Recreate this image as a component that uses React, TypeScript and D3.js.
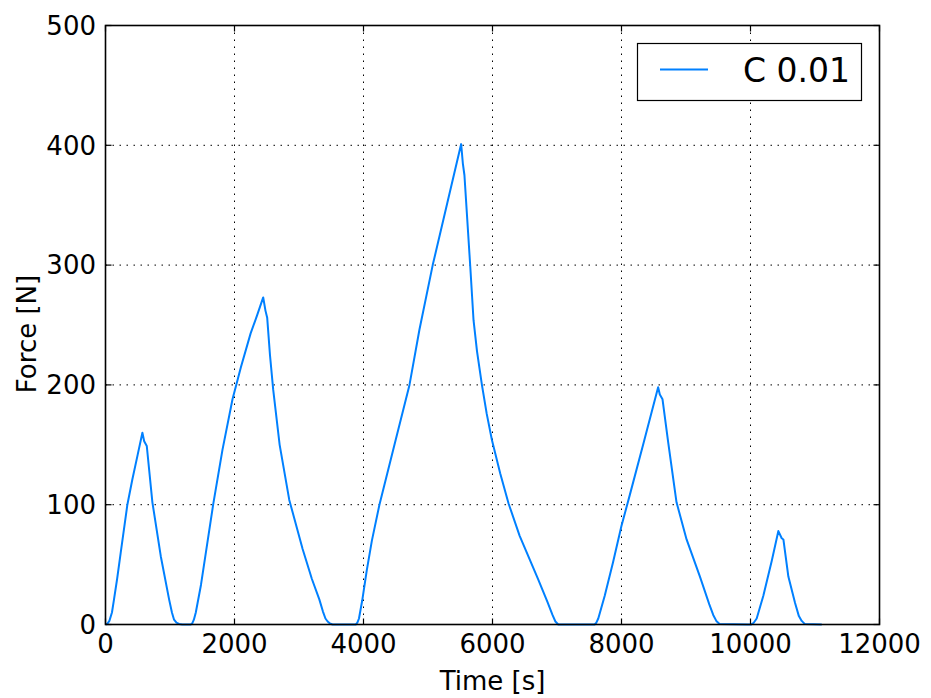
import React from "react";
import * as d3 from "d3";

const times = [0, 30, 60, 100, 132, 180, 236, 339, 416, 500, 572, 600, 640, 727, 857, 986, 1030, 1063, 1100, 1141, 1190, 1322, 1345, 1370, 1400, 1480, 1556, 1669, 1814, 1969, 2100, 2250, 2350, 2445, 2480, 2507, 2550, 2600, 2700, 2849, 3056, 3200, 3315, 3370, 3410, 3444, 3480, 3520, 3880, 3905, 3930, 3980, 4050, 4130, 4247, 4480, 4713, 4867, 5073, 5300, 5514, 5540, 5565, 5655, 5706, 5760, 5836, 5910, 5991, 6120, 6249, 6421, 6705, 6850, 6930, 6975, 7020, 7583, 7610, 7640, 7740, 7869, 7998, 8128, 8335, 8568, 8594, 8636, 8724, 8853, 9009, 9216, 9360, 9422, 9470, 9520, 9960, 10010, 10050, 10096, 10199, 10329, 10432, 10484, 10510, 10587, 10691, 10750, 10794, 10840, 11105];
const forces = [0, 0.8, 3, 10, 21, 38, 60, 100, 121, 142, 160, 153, 149, 102, 57, 21, 10, 4, 1.5, 0.5, 0, 0, 1, 4, 10, 33, 60, 100, 146, 188, 215, 243, 258, 273, 262, 256, 225, 196, 150, 104, 63, 38, 21, 11, 5, 2.5, 0.8, 0, 0, 1.5, 5, 20, 45, 70, 100, 150, 200, 246, 300, 352, 401, 385, 375, 299, 254, 228, 200, 176, 154, 126, 101, 74, 38, 19, 8, 2.5, 0, 0, 1.5, 5, 24, 52, 82, 108, 150, 198, 192, 188, 152, 102, 71, 40, 17, 8, 3, 0.5, 0, 0, 1.5, 5, 24, 53, 78, 72, 71, 40, 18, 7, 3, 0.5, 0, 0];
const xTicks = [0, 2000, 4000, 6000, 8000, 10000, 12000];
const yTicks = [0, 100, 200, 300, 400, 500];
const seriesName = "C 0.01";
const xLabel = "Time [s]";
const yLabel = "Force [N]";

const W = 931, H = 698;
const L = 105.5, R = 879.5, T = 25.5, B = 624.5;
const FONT = "DejaVu Sans, sans-serif";
const COLOR = "#0080ff";
const FS = 26;

export default function App() {
  const x = d3.scaleLinear().domain([0, 12000]).range([L, R]);
  const y = d3.scaleLinear().domain([0, 500]).range([B, T]);
  const pts = times.map((t, i) => [t, forces[i]] as [number, number]);
  const line = d3.line<[number, number]>().x(d => x(d[0])).y(d => y(d[1])).curve(d3.curveLinear);
  const tickLen = 6;
  return (
    <svg width={W} height={H} style={{ position: "absolute", left: 0, top: 0, background: "#fff" }} fontFamily={FONT}>
      <rect x={0} y={0} width={W} height={H} fill="#fff" />
      {xTicks.slice(1, -1).map(t => (
        <line key={"gx" + t} x1={x(t)} x2={x(t)} y1={T} y2={B} stroke="#000" strokeWidth={1} strokeDasharray="1.5,5.5" />
      ))}
      {yTicks.slice(1, -1).map(t => (
        <line key={"gy" + t} x1={L} x2={R} y1={y(t)} y2={y(t)} stroke="#000" strokeWidth={1} strokeDasharray="1.5,5.5" />
      ))}
      <path d={line(pts) || ""} fill="none" stroke={COLOR} strokeWidth={2} strokeLinejoin="round" />
      {xTicks.map(t => (
        <g key={"tx" + t}>
          <line x1={x(t)} x2={x(t)} y1={B} y2={B - tickLen} stroke="#000" strokeWidth={1.2} />
          <line x1={x(t)} x2={x(t)} y1={T} y2={T + tickLen} stroke="#000" strokeWidth={1.2} />
          <text x={x(t)} y={653} textAnchor="middle" fontSize={FS} fill="#000">{t}</text>
        </g>
      ))}
      {yTicks.map(t => (
        <g key={"ty" + t}>
          <line x1={L} x2={L + tickLen} y1={y(t)} y2={y(t)} stroke="#000" strokeWidth={1.2} />
          <line x1={R} x2={R - tickLen} y1={y(t)} y2={y(t)} stroke="#000" strokeWidth={1.2} />
          <text x={96} y={y(t)} dy="0.36em" textAnchor="end" fontSize={FS} fill="#000">{t}</text>
        </g>
      ))}
      <rect x={L} y={T} width={R - L} height={B - T} fill="none" stroke="#000" strokeWidth={1.6} />
      <text x={(L + R) / 2} y={690} textAnchor="middle" fontSize={FS} fill="#000">{xLabel}</text>
      <text transform={`translate(36,334) rotate(-90)`} textAnchor="middle" fontSize={FS} fill="#000">{yLabel}</text>
      <rect x={637.5} y={43.5} width={224} height={57} fill="#fff" stroke="#000" strokeWidth={1.2} />
      <line x1={660} x2={708} y1={69.5} y2={69.5} stroke={COLOR} strokeWidth={2} />
      <text x={743} y={82} fontSize={33} fill="#000">{seriesName}</text>
    </svg>
  );
}
